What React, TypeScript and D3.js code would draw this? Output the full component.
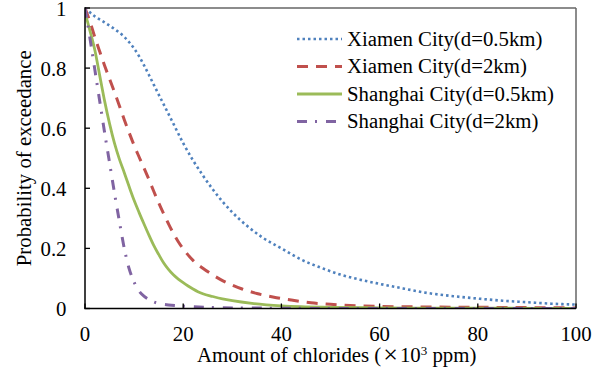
import React from 'react';
import * as d3 from 'd3';

const xTicks = [0, 20, 40, 60, 80, 100];
const yTicks = [0, 0.2, 0.4, 0.6, 0.8, 1];
const yTickLabels = ['0', '0.2', '0.4', '0.6', '0.8', '1'];
const seriesNames = [
  'Xiamen City(d=0.5km)',
  'Xiamen City(d=2km)',
  'Shanghai City(d=0.5km)',
  'Shanghai City(d=2km)',
];

const xiamen05: [number, number][] = [
  [0, 1.0], [2, 0.972], [4, 0.952], [6, 0.93], [8, 0.904], [9, 0.886], [10, 0.865],
  [11, 0.84], [12, 0.81], [13, 0.778], [14, 0.745],
  [16, 0.68], [18, 0.615], [20, 0.55], [22, 0.493], [24, 0.443],
  [26, 0.397], [28, 0.356], [30, 0.32], [33, 0.275], [36, 0.238], [40, 0.2],
  [44, 0.163], [48, 0.136], [52, 0.113], [56, 0.096], [60, 0.082], [65, 0.066],
  [70, 0.051], [75, 0.041], [80, 0.033], [85, 0.026], [90, 0.021], [95, 0.016], [100, 0.013],
];
const xiamen2: [number, number][] = [
  [0, 1.0], [1, 0.955], [2, 0.903], [3, 0.855], [4, 0.808], [5, 0.764], [6, 0.72],
  [7, 0.675], [8, 0.628], [9, 0.585], [10, 0.543], [11, 0.505], [12, 0.468],
  [13, 0.43], [14, 0.39], [15, 0.352], [16, 0.316], [17, 0.282], [18, 0.25],
  [19, 0.222], [20.5, 0.188], [22, 0.16], [24, 0.134], [26, 0.112], [28, 0.093],
  [30, 0.078], [32, 0.065], [35, 0.05], [39, 0.036], [42, 0.028], [46, 0.019],
  [50, 0.014], [54, 0.01], [60, 0.007], [70, 0.005], [80, 0.004], [90, 0.003], [100, 0.002],
];
const shanghai05: [number, number][] = [
  [0, 0.985], [1, 0.925], [2, 0.86], [3, 0.775], [4, 0.69], [5, 0.615], [6, 0.55],
  [7, 0.497], [8, 0.452], [9, 0.405], [10, 0.36], [11, 0.32], [12, 0.282],
  [13, 0.245], [14, 0.21], [15, 0.18], [16, 0.152], [17, 0.13], [18, 0.112],
  [19, 0.098], [20, 0.086], [21, 0.075], [22, 0.065], [23, 0.056], [24, 0.049],
  [26, 0.04], [28, 0.032], [30, 0.026], [34, 0.017], [40, 0.009], [44, 0.006],
  [50, 0.004], [60, 0.002], [70, 0.001], [80, 0.001], [100, 0.0],
];
const shanghai2: [number, number][] = [
  [0, 1.0], [1, 0.9], [2, 0.795], [3, 0.69], [4, 0.585], [5, 0.485], [6, 0.385],
  [7, 0.29], [8, 0.2], [9, 0.132], [10, 0.088], [11, 0.058], [12, 0.041],
  [13, 0.03], [14, 0.022], [15, 0.017], [17, 0.012], [20, 0.008], [25, 0.004],
  [30, 0.002], [40, 0.001], [50, 0.0], [100, 0.0],
];

const seriesData = [xiamen05, xiamen2, shanghai05, shanghai2];
const colors = ['#4F81BD', '#C0504D', '#9BBB59', '#8064A2'];
const dashes = ['2.5,3', '11,8', null, '10,8,2,9'];
const widths = [2.6, 3, 2.8, 3];

const W = 608;
const H = 371;
const left = 85;
const right = 576;
const top = 8;
const bottom = 308.5;
const FONT = '"Liberation Serif", "Times New Roman", serif';
const FS = 20.8;

export default function App() {
  const x = d3.scaleLinear().domain([0, 100]).range([left, right]);
  const y = d3.scaleLinear().domain([0, 1]).range([bottom, top]);
  const line = d3
    .line<[number, number]>()
    .x((d) => x(d[0]))
    .y((d) => y(d[1]))
    .curve(d3.curveMonotoneX);

  const legendY = [39, 66.5, 94, 121.5];

  return (
    <svg
      width={W}
      height={H}
      style={{ position: 'absolute', left: 0, top: 0, background: '#fff' }}
      fontFamily={FONT}
    >
      <rect x={0} y={0} width={W} height={H} fill="#fff" />
      <defs>
        <clipPath id="plotclip">
          <rect x={left} y={top - 4} width={right - left} height={bottom - top + 4} />
        </clipPath>
      </defs>
      {/* frame top/right */}
      <line x1={left} x2={right} y1={top} y2={top} stroke="#666" strokeWidth={1.5} />
      <line x1={right} x2={right} y1={top} y2={bottom} stroke="#666" strokeWidth={1.5} />

      {/* series */}
      <g clipPath="url(#plotclip)">
        {seriesData.map((s, i) => (
          <path
            key={i}
            d={line(s) || ''}
            fill="none"
            stroke={colors[i]}
            strokeWidth={widths[i]}
            strokeDasharray={dashes[i] || undefined}
          />
        ))}
      </g>

      {/* axes */}
      <line x1={left} x2={left} y1={top - 0.75} y2={bottom} stroke="#000" strokeWidth={1.5} />
      <line x1={left - 0.75} x2={right} y1={bottom} y2={bottom} stroke="#000" strokeWidth={1.5} />
      {yTicks.map((t, i) => (
        <g key={'y' + i}>
          <line x1={left} x2={left + 5} y1={y(t)} y2={y(t)} stroke="#000" strokeWidth={1.3} />
          <text x={66.5} y={y(t) + 7.5} textAnchor="end" fontSize={FS} fill="#000">
            {yTickLabels[i]}
          </text>
        </g>
      ))}
      {xTicks.map((t, i) => (
        <g key={'x' + i}>
          <line x1={x(t)} x2={x(t)} y1={bottom} y2={bottom - 5} stroke="#000" strokeWidth={1.3} />
          <text x={x(t)} y={341} textAnchor="middle" fontSize={FS} fill="#000">
            {String(t)}
          </text>
        </g>
      ))}

      {/* axis titles */}
      <text x={197} y={361.5} fontSize={FS} fill="#000">
        Amount of chlorides (
        <tspan dx={2} fontSize={26} dy={1}>×</tspan>
        <tspan dx={2} dy={-1}>10</tspan>
        <tspan dy={-7} fontSize={13}>3</tspan>
        <tspan dy={7}> ppm)</tspan>
      </text>
      <text
        transform={`translate(30.5, ${(top + bottom) / 2}) rotate(-90)`}
        textAnchor="middle"
        fontSize={FS}
        fill="#000"
      >
        Probability of exceedance
      </text>

      {/* legend */}
      {seriesNames.map((n, i) => (
        <g key={'l' + i}>
          <line
            x1={297}
            x2={342}
            y1={legendY[i]}
            y2={legendY[i]}
            stroke={colors[i]}
            strokeWidth={widths[i]}
            strokeDasharray={dashes[i] || undefined}
          />
          <text x={347} y={legendY[i] + 6.5} fontSize={FS} fill="#000">
            {n}
          </text>
        </g>
      ))}
    </svg>
  );
}
